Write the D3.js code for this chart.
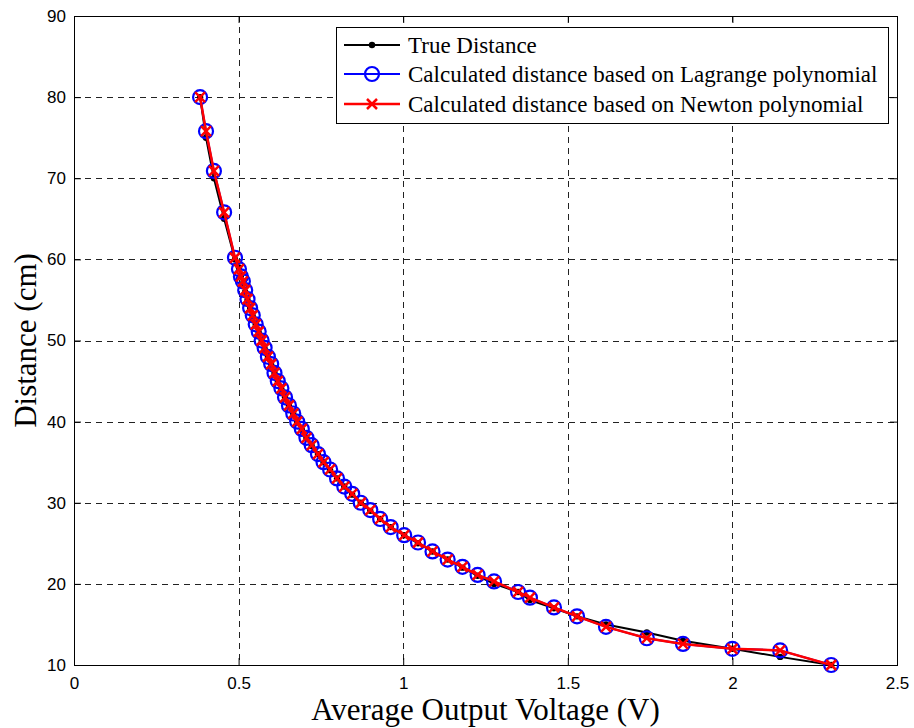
<!DOCTYPE html>
<html>
<head>
  <meta charset="utf-8">
  <script src="https://d3js.org/d3.v7.min.js"></script>
  <style>
    body { margin: 0; background: #fff; }
    .tick-label { font-family: "Liberation Sans", Arial, sans-serif; font-size: 17px; }
    .title { font-family: "Liberation Serif", "Times New Roman", serif; font-size: 31px; }
    .legend text { font-family: "Liberation Serif", "Times New Roman", serif; font-size: 23px; }
  </style>
</head>
<body>
<script>
// measured average output voltage (V) at each test distance
var voltage = [0.383, 0.401, 0.425, 0.456, 0.489, 0.501, 0.507, 0.513, 0.520, 0.527,
               0.535, 0.543, 0.552, 0.561, 0.570, 0.579, 0.589, 0.599, 0.609, 0.619,
               0.630, 0.641, 0.653, 0.666, 0.678, 0.692, 0.706, 0.722, 0.741, 0.758,
               0.778, 0.799, 0.821, 0.845, 0.871, 0.900, 0.930, 0.962, 1.003, 1.045,
               1.089, 1.135, 1.180, 1.226, 1.276, 1.349, 1.385, 1.458, 1.528, 1.616,
               1.740, 1.850, 2.000, 2.145, 2.300];

var trueDistance = [80, 75, 70, 65, 60, 59, 58, 57, 56, 55,
                    54, 53, 52, 51, 50, 49, 48, 47, 46, 45,
                    44, 43, 42, 41, 40, 39, 38, 37, 36, 35,
                    34, 33, 32, 31, 30, 29, 28, 27, 26, 25,
                    24, 23, 22, 21, 20, 19, 18, 17, 16, 15,
                    14, 13, 12, 11, 10];

var lagrangeDistance = [80, 75.8, 70.9, 65.8, 60.2, 58.8, 57.9, 57.3, 56.2, 55.1,
                        54.0, 53.1, 52.0, 51.1, 50.0, 49.1, 48.0, 47.1, 46.0, 45.0,
                        44.1, 43.0, 42.0, 41.0, 40.0, 39.1, 38.0, 37.1, 36.0, 35.0,
                        34.1, 33.0, 32.0, 31.1, 30.0, 29.1, 28.0, 27.0, 26.0, 25.1,
                        24.0, 23.0, 22.1, 21.1, 20.3, 19.0, 18.3, 17.1, 16.0, 14.7,
                        13.3, 12.6, 12.0, 11.8, 10];

var newtonDistance = [80, 75.8, 70.9, 65.8, 60.2, 58.8, 57.9, 57.3, 56.2, 55.1,
                      54.0, 53.1, 52.0, 51.1, 50.0, 49.1, 48.0, 47.1, 46.0, 45.0,
                      44.1, 43.0, 42.0, 41.0, 40.0, 39.1, 38.0, 37.1, 36.0, 35.0,
                      34.1, 33.0, 32.0, 31.1, 30.0, 29.1, 28.0, 27.0, 26.0, 25.1,
                      24.0, 23.0, 22.1, 21.1, 20.3, 19.0, 18.3, 17.1, 16.0, 14.7,
                      13.3, 12.6, 12.0, 11.8, 10];

var xTicks = [0, 0.5, 1, 1.5, 2, 2.5];
var yTicks = [10, 20, 30, 40, 50, 60, 70, 80, 90];
var legendLabels = ["True Distance",
                    "Calculated distance based on Lagrange polynomial",
                    "Calculated distance based on Newton polynomial"];

var W = 914, H = 728;
// plot box (window.top is read-only, so keep these names distinct)
var pL = 74, pR = 897, pT = 16, pB = 665;

var svg = d3.select("body").append("svg")
  .attr("width", W).attr("height", H);

var x = d3.scaleLinear().domain([0, 2.5]).range([pL, pR]);
var y = d3.scaleLinear().domain([10, 90]).range([pB, pT]);

// dashed grid
svg.append("g").selectAll("line").data(xTicks.slice(1, -1)).enter().append("line")
  .attr("x1", d => Math.round(x(d)) + 0.5).attr("x2", d => Math.round(x(d)) + 0.5)
  .attr("y1", pT).attr("y2", pB)
  .attr("stroke", "#222").attr("stroke-dasharray", "6,5");
svg.append("g").selectAll("line").data(yTicks.slice(1, -1)).enter().append("line")
  .attr("y1", d => Math.round(y(d)) + 0.5).attr("y2", d => Math.round(y(d)) + 0.5)
  .attr("x1", pL).attr("x2", pR)
  .attr("stroke", "#222").attr("stroke-dasharray", "6,5");

// axes, ticks pointing inward (matlab style)
var xAxis = svg.append("g").attr("transform", "translate(0," + pB + ")")
  .call(d3.axisBottom(x).tickValues(xTicks).tickSizeInner(-7).tickSizeOuter(0)
    .tickPadding(12).tickFormat(d3.format("")));
var yAxis = svg.append("g").attr("transform", "translate(" + pL + ",0)")
  .call(d3.axisLeft(y).tickValues(yTicks).tickSizeInner(-7).tickSizeOuter(0).tickPadding(8));
svg.append("g").attr("transform", "translate(0," + pT + ")")
  .call(d3.axisTop(x).tickValues(xTicks).tickSizeInner(-7).tickSizeOuter(0).tickFormat(""));
svg.append("g").attr("transform", "translate(" + pR + ",0)")
  .call(d3.axisRight(y).tickValues(yTicks).tickSizeInner(-7).tickSizeOuter(0).tickFormat(""));
svg.selectAll(".domain").remove();
svg.selectAll(".tick line").attr("stroke", "#000");
xAxis.selectAll("text").attr("class", "tick-label").attr("fill", "#000");
yAxis.selectAll("text").attr("class", "tick-label").attr("fill", "#000");

svg.append("rect")
  .attr("x", pL + 0.5).attr("y", pT + 0.5)
  .attr("width", pR - pL).attr("height", pB - pT)
  .attr("fill", "none").attr("stroke", "#000");

var idx = d3.range(voltage.length);
function lineFor(arr) {
  return d3.line().x(i => x(voltage[i])).y(i => y(arr[i]));
}

// true distance
svg.append("path").datum(idx).attr("d", lineFor(trueDistance))
  .attr("fill", "none").attr("stroke", "#000").attr("stroke-width", 2);
svg.append("g").selectAll("circle").data(idx).enter().append("circle")
  .attr("cx", i => x(voltage[i])).attr("cy", i => y(trueDistance[i])).attr("r", 3.2)
  .attr("fill", "#000");

// lagrange
svg.append("path").datum(idx).attr("d", lineFor(lagrangeDistance))
  .attr("fill", "none").attr("stroke", "#0000ff").attr("stroke-width", 2);
svg.append("g").selectAll("circle").data(idx).enter().append("circle")
  .attr("cx", i => x(voltage[i])).attr("cy", i => y(lagrangeDistance[i])).attr("r", 7)
  .attr("fill", "none").attr("stroke", "#0000ff").attr("stroke-width", 2.2);

// newton
svg.append("path").datum(idx).attr("d", lineFor(newtonDistance))
  .attr("fill", "none").attr("stroke", "#ff0000").attr("stroke-width", 2.5);
var cross = "M-5,-5L5,5M-5,5L5,-5";
svg.append("g").selectAll("path").data(idx).enter().append("path")
  .attr("transform", i => "translate(" + x(voltage[i]) + "," + y(newtonDistance[i]) + ")")
  .attr("d", cross).attr("stroke", "#ff0000").attr("stroke-width", 2.5).attr("fill", "none");

// axis titles
svg.append("text").attr("class", "title")
  .attr("x", (pL + pR) / 2).attr("y", 720)
  .attr("text-anchor", "middle").text("Average Output Voltage (V)");
svg.append("text").attr("class", "title")
  .attr("transform", "translate(36," + ((pT + pB) / 2) + ") rotate(-90)")
  .attr("text-anchor", "middle").text("Distance (cm)");

// legend
var lg = svg.append("g").attr("class", "legend");
lg.append("rect").attr("x", 336.5).attr("y", 27.5).attr("width", 552).attr("height", 96)
  .attr("fill", "#fff").attr("stroke", "#000");
var rowY = [45, 74, 104];
var colors = ["#000", "#0000ff", "#ff0000"];
legendLabels.forEach(function(lbl, k) {
  var cy = rowY[k], cx = 372;
  lg.append("line").attr("x1", 344).attr("x2", 400).attr("y1", cy).attr("y2", cy)
    .attr("stroke", colors[k]).attr("stroke-width", k == 2 ? 2.5 : 2);
  if (k == 0) lg.append("circle").attr("cx", cx).attr("cy", cy).attr("r", 3.2).attr("fill", "#000");
  if (k == 1) lg.append("circle").attr("cx", cx).attr("cy", cy).attr("r", 7)
    .attr("fill", "none").attr("stroke", "#0000ff").attr("stroke-width", 2.2);
  if (k == 2) lg.append("path").attr("transform", "translate(" + cx + "," + cy + ")")
    .attr("d", cross).attr("stroke", "#ff0000").attr("stroke-width", 2.5);
  lg.append("text").attr("x", 408).attr("y", cy).attr("dy", "0.35em").text(lbl);
});
</script>
</body>
</html>
